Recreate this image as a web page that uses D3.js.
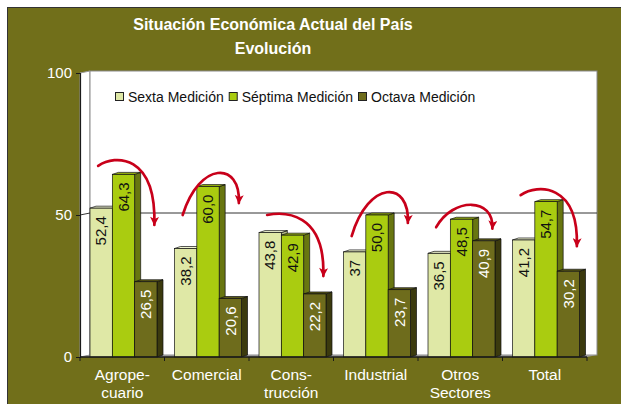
<!DOCTYPE html>
<html>
<head>
<meta charset="utf-8">
<script src="https://cdn.jsdelivr.net/npm/d3@7"></script>
<style>
  html, body { margin: 0; padding: 0; background: #fff; }
  svg { display: block; font-family: 'Liberation Sans', Arial, sans-serif; }
</style>
</head>
<body>
<svg width="621" height="404"></svg>
<script>
'use strict'

// data
const categories = ['Agropecuario', 'Comercial', 'Construcción', 'Industrial', 'Otros Sectores', 'Total']
const categoryLines = [['Agrope-', 'cuario'], ['Comercial'], ['Cons-', 'trucción'], ['Industrial'], ['Otros', 'Sectores'], ['Total']]
const seriesNames = ['Sexta Medición', 'Séptima Medición', 'Octava Medición']
const sexta = ['52,4', '38,2', '43,8', '37', '36,5', '41,2']
const septima = ['64,3', '60,0', '42,9', '50,0', '48,5', '54,7']
const octava = ['26,5', '20,6', '22,2', '23,7', '40,9', '30,2']
const yTicks = [0, 50, 100]

// red arrows drawn over each group (levels in value units)
const arrowFrom = [67.3, 50, 50, 42.6, 45.7, 57]
const arrowTop = [67.8, 64.8, 48.2, 58, 53.6, 57.8]
const arrowTo = [45.8, 53.5, 27.8, 46.5, 44.5, 38.3]

const toNum = s => +s.replace(',', '.')
const series = [sexta, septima, octava]

const colors = {
  bg: '#716f1a',
  front: ['#dfe8a6', '#aacc10', '#6e6c1c'],
  top: ['#eef3cf', '#9ab40e', '#5a5916'],
  side: ['#b4bb86', '#687610', '#3b3a0e'],
  arrow: '#c8001a'
}

const svg = d3.select('svg')

// outer frame
svg.append('rect')
  .attr('x', 7.5).attr('y', 7.5)
  .attr('width', 630).attr('height', 420)
  .attr('fill', colors.bg)
  .attr('stroke', '#333')
  .attr('stroke-width', 1)

// title
const title = svg.append('text')
  .attr('x', 273)
  .attr('text-anchor', 'middle')
  .attr('fill', '#fff')
  .style('font-weight', 'bold')
  .style('font-size', '16px')
title.append('tspan').attr('x', 273).attr('y', 30).text('Situación Económica Actual del País')
title.append('tspan').attr('x', 273).attr('y', 54).text('Evolución')

const y = d3.scaleLinear().domain([0, 100]).range([357, 73])
const x = d3.scaleBand().domain(categories).range([80, 587]).padding(0)

const wallDx = 10, wallDy = -2
const barDx = 6, barDy = -2
const barOffset = 10
const bw = (x.bandwidth() - 2 * barOffset + 2.5) / 3

const x0 = x.range()[0], x1 = x.range()[1]

// side wall
svg.append('polygon')
  .attr('points', [[x0, y(100)], [x0 + wallDx, y(100) + wallDy], [x0 + wallDx, y(0) + wallDy], [x0, y(0)]].join(' '))
  .attr('fill', '#fff')
  .attr('stroke', '#999')
  .attr('stroke-width', 1)

// back wall
svg.append('rect')
  .attr('x', x0 + wallDx).attr('y', y(100) + wallDy)
  .attr('width', x1 - x0).attr('height', y(0) - y(100))
  .attr('fill', '#fff')
  .attr('stroke', '#8a8a8a')
  .attr('stroke-width', 1)

// floor
svg.append('polygon')
  .attr('points', [[x0, y(0)], [x1, y(0)], [x1 + wallDx, y(0) + wallDy], [x0 + wallDx, y(0) + wallDy]].join(' '))
  .attr('fill', '#9a9a9a')

// grid line at 50
svg.append('polyline')
  .attr('points', [[x0, y(50)], [x0 + wallDx, y(50) + wallDy], [x1 + wallDx, y(50) + wallDy]].join(' '))
  .attr('fill', 'none')
  .attr('stroke', '#333')
  .attr('stroke-width', 1)

// legend
const legend = svg.append('g').attr('transform', 'translate(115,97)')
let lx = 0
seriesNames.forEach((name, i) => {
  legend.append('rect')
    .attr('x', lx + 0.5).attr('y', -4.5)
    .attr('width', 8).attr('height', 8)
    .attr('fill', colors.front[i])
    .attr('stroke', '#222')
    .attr('stroke-width', 1)
  const t = legend.append('text')
    .attr('x', lx + 13)
    .attr('y', 5)
    .attr('fill', '#111')
    .style('font-size', '14px')
    .text(name)
  lx += 13 + t.node().getComputedTextLength() + 5
})

// bars
const barData = []
categories.forEach((c, ci) => {
  series.forEach((s, si) => {
    barData.push({ cat: c, ci, si, label: s[ci], value: toNum(s[ci]) })
  })
})

const bars = svg.append('g').selectAll('g').data(barData).join('g')

bars.each(function (d) {
  const g = d3.select(this)
  const bx = x(d.cat) + barOffset + d.si * bw
  const by = y(d.value), b0 = y(0)
  g.append('polygon')
    .attr('points', [[bx + bw, by], [bx + bw + barDx, by + barDy], [bx + bw + barDx, b0 + barDy], [bx + bw, b0]].join(' '))
    .attr('fill', colors.side[d.si])
    .attr('stroke', '#111').attr('stroke-width', 0.7).attr('stroke-linejoin', 'round')
  g.append('polygon')
    .attr('points', [[bx, by], [bx + barDx, by + barDy], [bx + bw + barDx, by + barDy], [bx + bw, by]].join(' '))
    .attr('fill', colors.top[d.si])
    .attr('stroke', '#111').attr('stroke-width', 0.7).attr('stroke-linejoin', 'round')
  g.append('rect')
    .attr('x', bx).attr('y', by)
    .attr('width', bw).attr('height', b0 - by)
    .attr('fill', colors.front[d.si])
    .attr('stroke', '#111').attr('stroke-width', 0.7)
})

// y axis
svg.append('g')
  .attr('transform', `translate(${x0},0)`)
  .call(d3.axisLeft(y).tickValues(yTicks).tickSize(4).tickPadding(4))
  .call(g => {
    g.select('.domain').attr('stroke', '#1a1a1a').attr('stroke-width', 1.2)
    g.selectAll('.tick line').attr('stroke', '#1a1a1a')
    g.selectAll('.tick text')
      .attr('fill', '#fff')
      .style('font-size', '15px')
      .style('font-family', "'Liberation Sans', Arial, sans-serif")
  })

// x axis
const xAxis = svg.append('g')
  .attr('transform', `translate(0,${y(0)})`)
xAxis.append('line')
  .attr('x1', x0).attr('x2', x1)
  .attr('stroke', '#1a1a1a').attr('stroke-width', 1.6)
xAxis.selectAll('.bound')
  .data(categories.map(c => x(c)).concat([x1]))
  .join('line')
  .attr('class', 'bound')
  .attr('x1', d => d).attr('x2', d => d)
  .attr('y1', 0).attr('y2', 4)
  .attr('stroke', '#1a1a1a')

xAxis.selectAll('.cat')
  .data(categories)
  .join('text')
  .attr('class', 'cat')
  .attr('text-anchor', 'middle')
  .attr('fill', '#fff')
  .style('font-size', '15.5px')
  .each(function (c, i) {
    categoryLines[i].forEach((line, li) => {
      d3.select(this).append('tspan')
        .attr('x', x(c) + x.bandwidth() / 2)
        .attr('y', 23 + li * 18)
        .text(line)
    })
  })

// value labels
svg.append('g').selectAll('text')
  .data(barData)
  .join('text')
  .attr('transform', d => {
    const cx = x(d.cat) + barOffset + d.si * bw + bw / 2
    return `translate(${cx},${y(d.value) + 8}) rotate(-90)`
  })
  .attr('text-anchor', 'end')
  .attr('dy', '0.35em')
  .attr('fill', d => d.si === 2 ? '#fff' : '#111')
  .style('font-size', '15px')
  .text(d => d.label)

// arrows
const defs = svg.append('defs')
defs.append('marker')
  .attr('id', 'head')
  .attr('markerUnits', 'userSpaceOnUse')
  .attr('viewBox', '0 0 10 10')
  .attr('refX', 9).attr('refY', 5)
  .attr('markerWidth', 11).attr('markerHeight', 9)
  .attr('orient', 'auto')
  .append('path')
  .attr('d', 'M0,0 L10,5 L0,10 L2.5,5 Z')
  .attr('fill', colors.arrow)

svg.append('g').selectAll('path')
  .data(categories)
  .join('path')
  .attr('d', (c, i) => {
    const bx = x(c), w = x.bandwidth()
    const sx = bx + w * 0.215, sy = y(arrowFrom[i])
    const tx = bx + w * 0.88, ty = y(arrowTo[i]) - 2
    const py = y(arrowTop[i])
    // cubic with both handles at one height so its top sits near py
    const h = (8 * py - sy - ty) / 6
    const p = d3.path()
    p.moveTo(sx, sy)
    p.bezierCurveTo(sx + 0.3 * (tx - sx), h, tx + 2, h, tx, ty)
    return p.toString()
  })
  .attr('fill', 'none')
  .attr('stroke', colors.arrow)
  .attr('stroke-width', 2.7)
  .attr('stroke-linecap', 'round')
  .attr('marker-end', 'url(#head)')
</script>
</body>
</html>
